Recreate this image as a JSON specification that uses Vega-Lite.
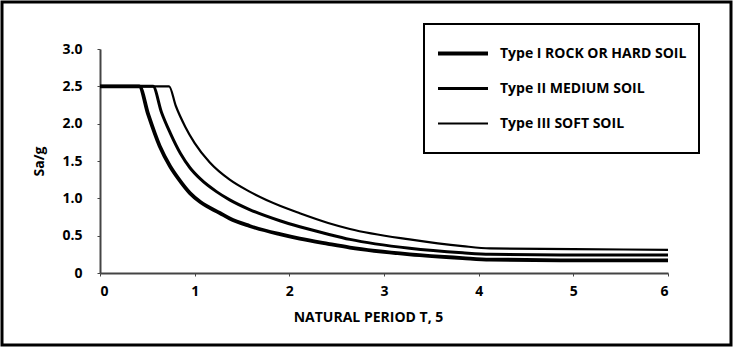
{
  "$schema": "https://vega.github.io/schema/vega-lite/v6.json",
  "width": 729,
  "height": 343,
  "autosize": {"type": "none"},
  "padding": 2,
  "background": "white",
  "config": {
    "view": {"stroke": "black", "strokeWidth": 3},
    "font": "Open Sans"
  },
  "data": {
    "values": [
      {"type": "Type I ROCK OR HARD SOIL", "T": 0, "Sa": 2.5},
      {"type": "Type I ROCK OR HARD SOIL", "T": 0.415, "Sa": 2.5},
      {"type": "Type I ROCK OR HARD SOIL", "T": 0.51, "Sa": 2.12},
      {"type": "Type I ROCK OR HARD SOIL", "T": 0.63, "Sa": 1.7},
      {"type": "Type I ROCK OR HARD SOIL", "T": 0.74, "Sa": 1.43},
      {"type": "Type I ROCK OR HARD SOIL", "T": 0.83, "Sa": 1.26},
      {"type": "Type I ROCK OR HARD SOIL", "T": 0.95, "Sa": 1.07},
      {"type": "Type I ROCK OR HARD SOIL", "T": 1.06, "Sa": 0.95},
      {"type": "Type I ROCK OR HARD SOIL", "T": 1.27, "Sa": 0.8},
      {"type": "Type I ROCK OR HARD SOIL", "T": 1.37, "Sa": 0.73},
      {"type": "Type I ROCK OR HARD SOIL", "T": 1.58, "Sa": 0.63},
      {"type": "Type I ROCK OR HARD SOIL", "T": 1.9, "Sa": 0.52},
      {"type": "Type I ROCK OR HARD SOIL", "T": 2.11, "Sa": 0.46},
      {"type": "Type I ROCK OR HARD SOIL", "T": 2.41, "Sa": 0.39},
      {"type": "Type I ROCK OR HARD SOIL", "T": 2.64, "Sa": 0.34},
      {"type": "Type I ROCK OR HARD SOIL", "T": 3.27, "Sa": 0.25},
      {"type": "Type I ROCK OR HARD SOIL", "T": 3.83, "Sa": 0.2},
      {"type": "Type I ROCK OR HARD SOIL", "T": 4.12, "Sa": 0.18},
      {"type": "Type I ROCK OR HARD SOIL", "T": 5, "Sa": 0.17},
      {"type": "Type I ROCK OR HARD SOIL", "T": 6, "Sa": 0.17},
      {"type": "Type II MEDIUM SOIL", "T": 0, "Sa": 2.5},
      {"type": "Type II MEDIUM SOIL", "T": 0.56, "Sa": 2.5},
      {"type": "Type II MEDIUM SOIL", "T": 0.65, "Sa": 2.15},
      {"type": "Type II MEDIUM SOIL", "T": 0.74, "Sa": 1.88},
      {"type": "Type II MEDIUM SOIL", "T": 0.85, "Sa": 1.6},
      {"type": "Type II MEDIUM SOIL", "T": 0.95, "Sa": 1.41},
      {"type": "Type II MEDIUM SOIL", "T": 1.06, "Sa": 1.26},
      {"type": "Type II MEDIUM SOIL", "T": 1.23, "Sa": 1.09},
      {"type": "Type II MEDIUM SOIL", "T": 1.37, "Sa": 0.98},
      {"type": "Type II MEDIUM SOIL", "T": 1.58, "Sa": 0.85},
      {"type": "Type II MEDIUM SOIL", "T": 1.9, "Sa": 0.7},
      {"type": "Type II MEDIUM SOIL", "T": 2.11, "Sa": 0.62},
      {"type": "Type II MEDIUM SOIL", "T": 2.41, "Sa": 0.52},
      {"type": "Type II MEDIUM SOIL", "T": 2.64, "Sa": 0.45},
      {"type": "Type II MEDIUM SOIL", "T": 3.27, "Sa": 0.33},
      {"type": "Type II MEDIUM SOIL", "T": 3.83, "Sa": 0.27},
      {"type": "Type II MEDIUM SOIL", "T": 4.12, "Sa": 0.25},
      {"type": "Type II MEDIUM SOIL", "T": 5, "Sa": 0.24},
      {"type": "Type II MEDIUM SOIL", "T": 6, "Sa": 0.24},
      {"type": "Type III SOFT SOIL", "T": 0, "Sa": 2.5},
      {"type": "Type III SOFT SOIL", "T": 0.73, "Sa": 2.5},
      {"type": "Type III SOFT SOIL", "T": 0.8, "Sa": 2.24},
      {"type": "Type III SOFT SOIL", "T": 0.9, "Sa": 1.96},
      {"type": "Type III SOFT SOIL", "T": 1.0, "Sa": 1.74},
      {"type": "Type III SOFT SOIL", "T": 1.16, "Sa": 1.48},
      {"type": "Type III SOFT SOIL", "T": 1.37, "Sa": 1.25},
      {"type": "Type III SOFT SOIL", "T": 1.58, "Sa": 1.09},
      {"type": "Type III SOFT SOIL", "T": 1.9, "Sa": 0.9},
      {"type": "Type III SOFT SOIL", "T": 2.11, "Sa": 0.8},
      {"type": "Type III SOFT SOIL", "T": 2.41, "Sa": 0.67},
      {"type": "Type III SOFT SOIL", "T": 2.64, "Sa": 0.59},
      {"type": "Type III SOFT SOIL", "T": 3.27, "Sa": 0.45},
      {"type": "Type III SOFT SOIL", "T": 3.83, "Sa": 0.36},
      {"type": "Type III SOFT SOIL", "T": 4.12, "Sa": 0.33},
      {"type": "Type III SOFT SOIL", "T": 5, "Sa": 0.32},
      {"type": "Type III SOFT SOIL", "T": 6, "Sa": 0.31}
    ]
  },
  "mark": {"type": "line", "interpolate": "monotone", "color": "black"},
  "encoding": {
    "x": {
      "field": "T",
      "type": "quantitative",
      "scale": {"domain": [0, 6], "range": [98, 666], "nice": false},
      "axis": {
        "offset": -72,
        "values": [0, 1, 2, 3, 4, 5, 6],
        "format": "d",
        "grid": false,
        "domainColor": "#444",
        "domainWidth": 2,
        "tickColor": "#444",
        "tickSize": 3,
        "labelFontSize": 14,
        "labelFontWeight": "bold",
        "labelColor": "black",
        "labelPadding": 8,
        "title": "NATURAL PERIOD T, 5",
        "titleFontSize": 14,
        "titleFontWeight": "bold",
        "titleColor": "black",
        "titlePadding": 12,
        "titleX": 366
      }
    },
    "y": {
      "field": "Sa",
      "type": "quantitative",
      "scale": {"domain": [0, 3], "range": [271, 47], "nice": false},
      "axis": {
        "offset": -98,
        "values": [0, 0.5, 1, 1.5, 2, 2.5, 3],
        "labelExpr": "datum.value == 0 ? '0' : format(datum.value, '.1f')",
        "grid": false,
        "domainColor": "#444",
        "domainWidth": 2,
        "tickColor": "#444",
        "tickSize": 3,
        "labelFontSize": 14,
        "labelFontWeight": "bold",
        "labelColor": "black",
        "labelPadding": 15,
        "title": "Sa/g",
        "titleFontSize": 14,
        "titleFontWeight": "bold",
        "titleColor": "black",
        "titlePadding": 15
      }
    },
    "strokeWidth": {
      "field": "type",
      "type": "ordinal",
      "scale": {
        "domain": ["Type I ROCK OR HARD SOIL", "Type II MEDIUM SOIL", "Type III SOFT SOIL"],
        "range": [3.8, 2.2, 1.2]
      },
      "legend": {
        "orient": "none",
        "legendX": 422,
        "legendY": 22,
        "title": null,
        "strokeColor": "black",
        "padding": 12,
        "symbolType": "stroke",
        "symbolSize": 2500,
        "symbolStrokeColor": "black",
        "labelFontSize": 14,
        "labelFontWeight": "bold",
        "labelColor": "black",
        "labelLimit": 0,
        "labelOffset": 10,
        "clipHeight": 35,
        "rowPadding": -4,
        "encode": {"legend": {"update": {"strokeWidth": {"value": 2}}}}
      }
    }
  }
}
